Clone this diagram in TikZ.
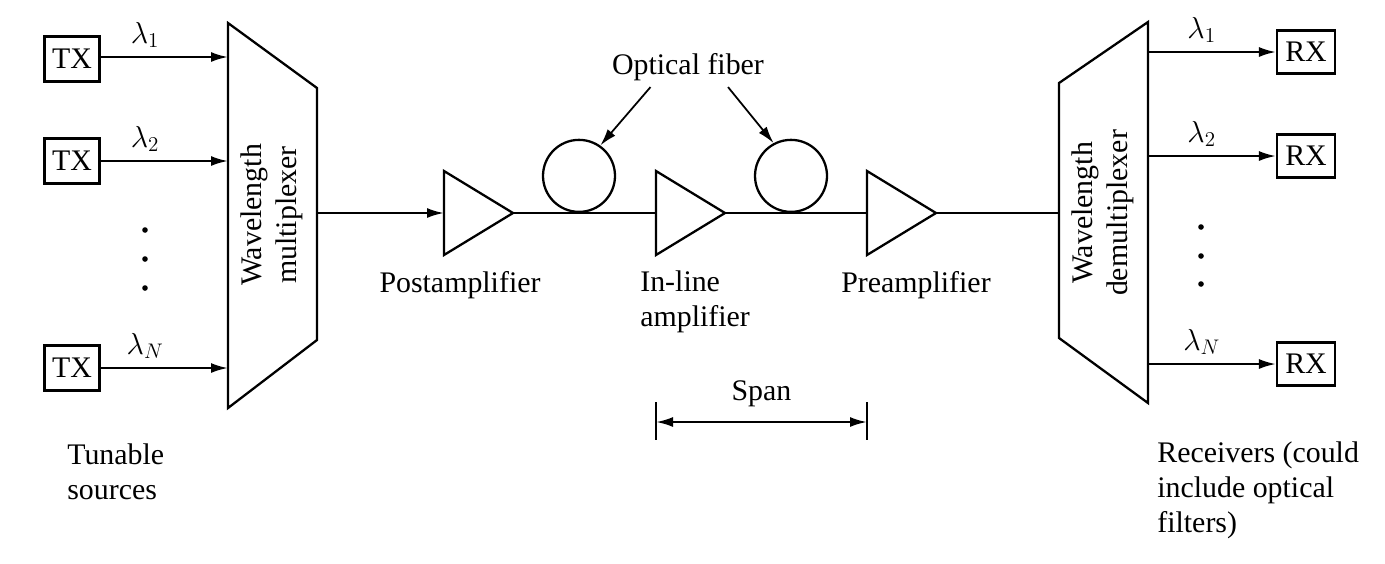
\documentclass[tikz,border=0pt]{standalone}
\usepackage{fontspec}
\setmainfont{Liberation Serif}
\usetikzlibrary{arrows.meta,positioning}

\tikzset{
  link/.style={line width=1.3pt},
  sig/.style={link, -{Latex[length=3.4mm,width=2mm]}},
  both/.style={link, {Latex[length=3.4mm,width=2mm]}-{Latex[length=3.4mm,width=2mm]}},
  txbox/.style={draw, line width=1.2pt, minimum width=11mm, minimum height=9mm, inner sep=0pt},
  fiber/.style={draw, circle, line width=1.3pt, minimum size=14.4mm, inner sep=0pt, anchor=south},
  lbl/.style={inner sep=0pt, font=\fontsize{17}{20}\selectfont},
}

% amplifier triangle: name, x of the input side
\newcommand{\amplifier}[2]{%
  \coordinate (#1-in) at (#2,213);
  \coordinate (#1-out) at (#2+69,213);
  \draw[link, line join=miter] (#2,171) -- (#1-out) -- (#2,255) -- cycle;
}

\begin{document}
\begin{tikzpicture}[x=0.2mm, y=-0.2mm, font=\fontsize{17}{20}\selectfont]
    \useasboundingbox (0,0) rectangle (1385,563);

    % Multiplexer
    \draw[link, line join=miter] (228,23) -- (317,88) -- (317,340) -- (228,408) -- cycle;
    \node[lbl, rotate=90, align=center] (mux) at (272,215) {Wavelength\\multiplexer};
    \coordinate (mux-in1) at (228,57);
    \coordinate (mux-in2) at (228,161);
    \coordinate (mux-inN) at (228,368);
    \coordinate (mux-out) at (317,213);

    % Sources
    \node[txbox] (tx1) at (72,59) {TX};
    \node[txbox] (tx2) at (72,161) {TX};
    \node[txbox] (txN) at (72,368) {TX};
    \draw[sig] (tx1.east |- mux-in1) -- node[lbl, above=1.6mm, pos=0.35] {$\lambda_1$} (mux-in1);
    \draw[sig] (tx2.east |- mux-in2) -- node[lbl, above=1.6mm, pos=0.35] {$\lambda_2$} (mux-in2);
    \draw[sig] (txN.east |- mux-inN) -- node[lbl, above=1.6mm, pos=0.35] {$\lambda_N$} (mux-inN);
    \foreach \y in {230,259,288}
        \fill (145,\y) circle (2.8);

    % Amplifiers
    \amplifier{post}{444}
    \amplifier{inline}{656}
    \amplifier{pre}{867}

    % Demultiplexer
    \draw[link, line join=miter] (1059,83) -- (1148,22) -- (1148,403) -- (1059,338) -- cycle;
    \node[lbl, rotate=90, align=center] (demux) at (1103,213) {Wavelength\\demultiplexer};
    \coordinate (demux-in) at (1059,213);
    \coordinate (demux-out1) at (1148,52);
    \coordinate (demux-out2) at (1148,156);
    \coordinate (demux-outN) at (1148,364);

    % Line
    \draw[sig] (mux-out) -- (post-in);
    \draw[link] (post-out) -- (inline-in);
    \draw[link] (inline-out) -- (pre-in);
    \draw[link] (pre-out) -- (demux-in);

    % Fiber spools
    \node[fiber] (fib1) at (579,213) {};
    \node[fiber] (fib2) at (791,213) {};
    \node[lbl] (fibtxt) at (688,67) {Optical fiber};
    \draw[sig, line width=1pt] ([xshift=-7.5mm,yshift=-1.2mm]fibtxt.south) -- (fib1.55);
    \draw[sig, line width=1pt] ([xshift=8mm,yshift=-1.2mm]fibtxt.south) -- (fib2.118);

    % Receivers
    \node[txbox, minimum width=11.6mm, minimum height=8.6mm] (rx1) at (1306,52) {RX};
    \node[txbox, minimum width=11.6mm, minimum height=8.6mm] (rx2) at (1306,156) {RX};
    \node[txbox, minimum width=11.6mm, minimum height=8.6mm] (rxN) at (1306,364) {RX};
    \draw[sig] (demux-out1) -- node[lbl, above=1.6mm, pos=0.42] {$\lambda_1$} (rx1);
    \draw[sig] (demux-out2) -- node[lbl, above=1.6mm, pos=0.42] {$\lambda_2$} (rx2);
    \draw[sig] (demux-outN) -- node[lbl, above=1.6mm, pos=0.42] {$\lambda_N$} (rxN);
    \foreach \y in {227,256,284}
        \fill (1201,\y) circle (2.8);

    % Labels
    \node[lbl] (postlbl) at (460,285) {Postamplifier};
    \node[lbl, anchor=west, align=left] (inlinelbl) at (640,302) {In-line\\amplifier};
    \node[lbl] (prelbl) at (916,285) {Preamplifier};

    % Span
    \coordinate (span-l) at (656,422);
    \coordinate (span-r) at (867,422);
    \draw[link] (656,402) -- (656,440);
    \draw[link] (867,402) -- (867,440);
    \draw[both] (span-l) -- node[lbl, above=2.8mm] {Span} (span-r);

    \node[lbl, anchor=west, align=left] (srclbl) at (67,472) {Tunable\\sources};
    \node[lbl, anchor=west, align=left] (rxlbl) at (1157,490) {Receivers (could\\include optical\\filters)};
\end{tikzpicture}
\end{document}
